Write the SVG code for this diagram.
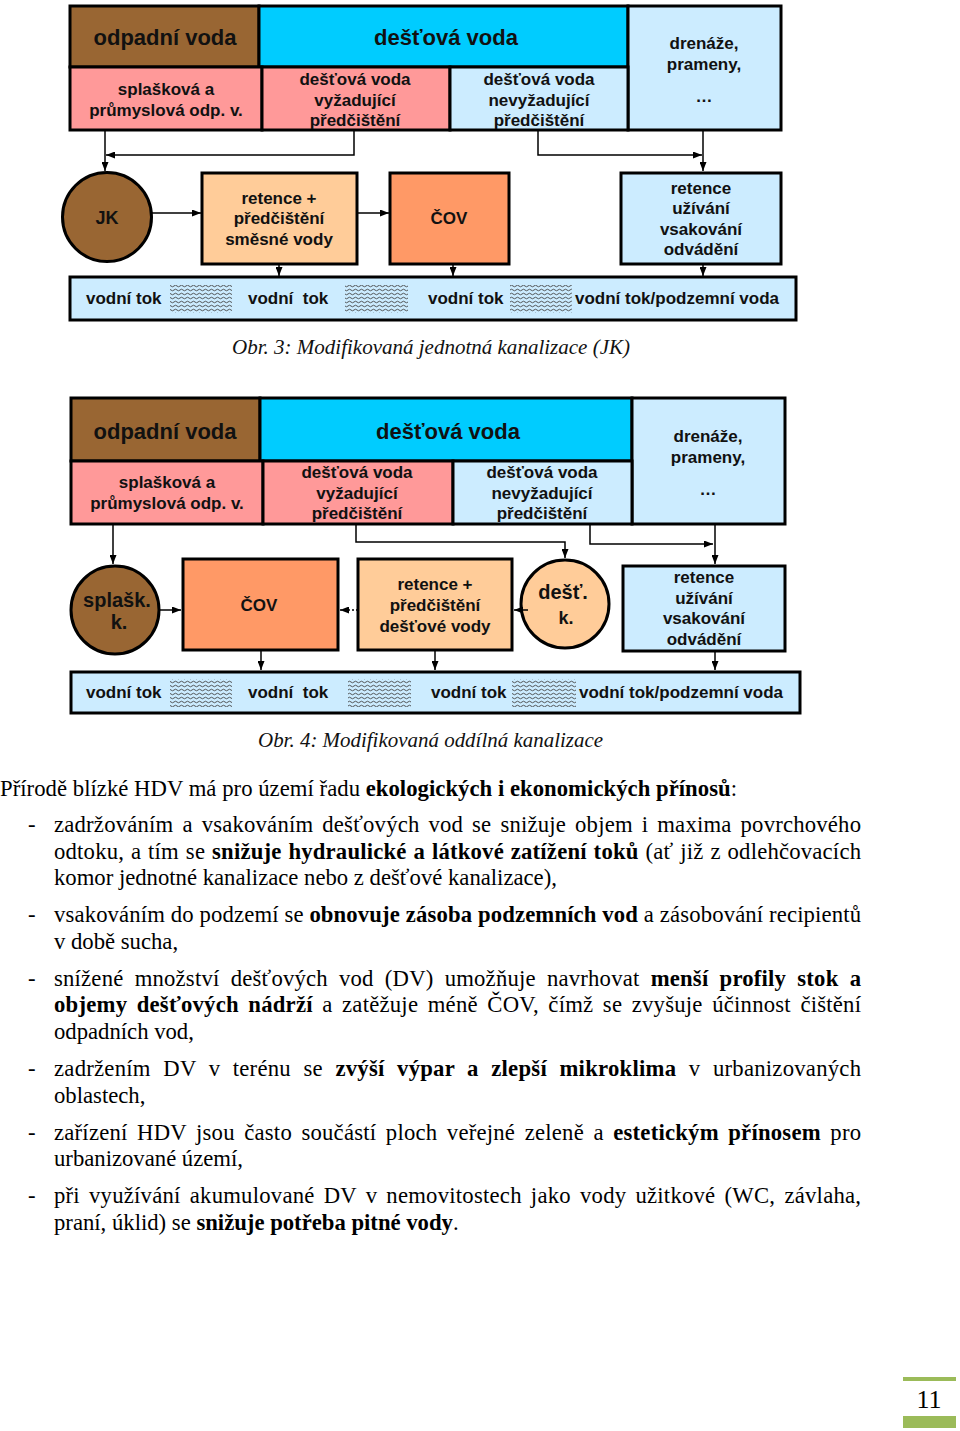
<svg xmlns="http://www.w3.org/2000/svg" width="960" height="1431" viewBox="0 0 960 1431">
<style>
.bx{stroke:#000;stroke-width:3}
.brown{fill:#996633}.cyan{fill:#00CCFF}.lb{fill:#CCECFF}.pink{fill:#FF9999}.lo{fill:#FFCC99}.or{fill:#FF9966}
.t{font-family:"Liberation Sans",Arial,sans-serif;font-weight:bold;font-size:17px;fill:#111;text-anchor:middle}
.h{font-size:22px}
.c{font-size:20px}
.s{font-family:"Liberation Sans",Arial,sans-serif;font-weight:bold;font-size:17px;fill:#111}
.cap{font-family:"Liberation Serif","Times New Roman",serif;font-style:italic;font-size:20px;fill:#111}
.b{font-family:"Liberation Serif","Times New Roman",serif;font-size:22.7px;fill:#000}
.bd{font-weight:bold}
.cn{fill:none;stroke:#000;stroke-width:1.5}
.wv{fill:url(#wave)}
</style>
<defs>
<marker id="ah" markerUnits="userSpaceOnUse" markerWidth="9" markerHeight="7" refX="9" refY="3.5" orient="auto"><path d="M0,0 L9,3.5 L0,7 z" fill="#000"/></marker>
<pattern id="wave" patternUnits="userSpaceOnUse" width="6" height="4"><path d="M0 2 Q1.5 0.4 3 2 T6 2" fill="none" stroke="#444" stroke-width="0.9"/></pattern>
</defs>

<!-- ===== Obr. 3 ===== -->
<g id="top-odpadni"><rect class="bx brown" x="70" y="6" width="189" height="61"/><text class="t h" x="165" y="45">odpadní voda</text></g>
<g id="top-destova"><rect class="bx cyan" x="259" y="6" width="369" height="61"/><text class="t h" x="446" y="45">dešťová voda</text></g>
<g id="top-drenaze"><rect class="bx lb" x="628" y="6" width="153" height="124"/><text class="t" x="704" y="49">drenáže,</text><text class="t" x="704" y="70">prameny,</text><text class="t" x="704" y="102">…</text></g>
<g id="top-splaskova"><rect class="bx pink" x="70" y="67" width="192" height="63"/><text class="t" x="166" y="95">splašková a</text><text class="t" x="166" y="116">průmyslová odp. v.</text></g>
<g id="top-vyzadujici"><rect class="bx pink" x="262" y="67" width="188" height="63"/><text class="t" x="355" y="85">dešťová voda</text><text class="t" x="355" y="106">vyžadující</text><text class="t" x="355" y="126">předčištění</text></g>
<g id="top-nevyzadujici"><rect class="bx lb" x="450" y="67" width="178" height="63"/><text class="t" x="539" y="85">dešťová voda</text><text class="t" x="539" y="106">nevyžadující</text><text class="t" x="539" y="126">předčištění</text></g>

<g id="top-jk"><circle class="bx brown" cx="107" cy="217" r="44.5"/><text class="t" style="font-size:18px" x="107" y="224">JK</text></g>
<g id="top-retence-smesne"><rect class="bx lo" x="202" y="173" width="155" height="91"/><text class="t" x="279" y="204">retence +</text><text class="t" x="279" y="224">předčištění</text><text class="t" x="279" y="245">směsné vody</text></g>
<g id="top-cov"><rect class="bx or" x="390" y="173" width="119" height="91"/><text class="t" x="449" y="224">ČOV</text></g>
<g id="top-retence-blue"><rect class="bx lb" x="621" y="173" width="160" height="91"/><text class="t" x="701" y="194">retence</text><text class="t" x="701" y="214">užívání</text><text class="t" x="701" y="235">vsakování</text><text class="t" x="701" y="255">odvádění</text></g>

<g id="top-vodni-tok"><rect class="bx lb" x="70" y="277" width="726" height="43"/>
<rect class="wv" x="170" y="285" width="62" height="28"/><rect class="wv" x="345" y="285" width="63" height="28"/><rect class="wv" x="510" y="285" width="62" height="28"/>
<text class="s" x="86" y="304">vodní tok</text><text class="s" x="248" y="304" xml:space="preserve">vodní  tok</text><text class="s" x="428" y="304">vodní tok</text><text class="s" x="575" y="304">vodní tok/podzemní voda</text></g>

<g id="connectors-top">
<path class="cn" d="M105 131 V171" marker-end="url(#ah)"/>
<path class="cn" d="M354 131 V155 H106" marker-end="url(#ah)"/>
<path class="cn" d="M538 131 V155 H702" marker-end="url(#ah)"/>
<path class="cn" d="M703 131 V171" marker-end="url(#ah)"/>
<path class="cn" d="M152 213 H201" marker-end="url(#ah)"/>
<path class="cn" d="M357 213 H389" marker-end="url(#ah)"/>
<path class="cn" d="M279 265 V276" marker-end="url(#ah)"/>
<path class="cn" d="M453 265 V276" marker-end="url(#ah)"/>
<path class="cn" d="M703 265 V276" marker-end="url(#ah)"/>
</g>

<text class="cap" x="232" y="354" textLength="398" lengthAdjust="spacingAndGlyphs">Obr. 3: Modifikovaná jednotná kanalizace (JK)</text>

<!-- ===== Obr. 4 ===== -->
<g id="bot-odpadni"><rect class="bx brown" x="71" y="398" width="189" height="63"/><text class="t h" x="165" y="439">odpadní voda</text></g>
<g id="bot-destova"><rect class="bx cyan" x="260" y="398" width="372" height="63"/><text class="t h" x="448" y="439">dešťová voda</text></g>
<g id="bot-drenaze"><rect class="bx lb" x="632" y="398" width="153" height="126"/><text class="t" x="708" y="442">drenáže,</text><text class="t" x="708" y="463">prameny,</text><text class="t" x="708" y="495">…</text></g>
<g id="bot-splaskova"><rect class="bx pink" x="71" y="461" width="192" height="63"/><text class="t" x="167" y="488">splašková a</text><text class="t" x="167" y="509">průmyslová odp. v.</text></g>
<g id="bot-vyzadujici"><rect class="bx pink" x="263" y="461" width="190" height="63"/><text class="t" x="357" y="478">dešťová voda</text><text class="t" x="357" y="499">vyžadující</text><text class="t" x="357" y="519">předčištění</text></g>
<g id="bot-nevyzadujici"><rect class="bx lb" x="453" y="461" width="179" height="63"/><text class="t" x="542" y="478">dešťová voda</text><text class="t" x="542" y="499">nevyžadující</text><text class="t" x="542" y="519">předčištění</text></g>

<g id="bot-splask-k"><circle class="bx brown" cx="115" cy="610" r="44"/><text class="t c" x="117" y="607">splašk.</text><text class="t c" x="119" y="629">k.</text></g>
<g id="bot-cov"><rect class="bx or" x="183" y="559" width="155" height="91"/><text class="t" x="259" y="611">ČOV</text></g>
<g id="bot-retence-destove"><rect class="bx lo" x="358" y="559" width="154" height="91"/><text class="t" x="435" y="590">retence +</text><text class="t" x="435" y="611">předčištění</text><text class="t" x="435" y="632">dešťové vody</text></g>
<g id="bot-dest-k"><circle class="bx lo" cx="565" cy="604" r="44"/><text class="t c" x="563" y="599">dešť.</text><text class="t" style="font-size:18px" x="566" y="624">k.</text></g>
<g id="bot-retence-blue"><rect class="bx lb" x="623" y="566" width="162" height="85"/><text class="t" x="704" y="583">retence</text><text class="t" x="704" y="604">užívání</text><text class="t" x="704" y="624">vsakování</text><text class="t" x="704" y="645">odvádění</text></g>

<g id="bot-vodni-tok"><rect class="bx lb" x="71" y="672" width="729" height="41"/>
<rect class="wv" x="170" y="679" width="62" height="28"/><rect class="wv" x="348" y="679" width="63" height="28"/><rect class="wv" x="512" y="679" width="64" height="28"/>
<text class="s" x="86" y="698">vodní tok</text><text class="s" x="248" y="698" xml:space="preserve">vodní  tok</text><text class="s" x="431" y="698">vodní tok</text><text class="s" x="579" y="698">vodní tok/podzemní voda</text></g>

<g id="connectors-bottom">
<path class="cn" d="M113 525 V564" marker-end="url(#ah)"/>
<path class="cn" d="M356 525 V542 H565 V558" marker-end="url(#ah)"/>
<path class="cn" d="M590 525 V544 H713" marker-end="url(#ah)"/>
<path class="cn" d="M715 525 V564" marker-end="url(#ah)"/>
<path class="cn" d="M159 610 H181" marker-end="url(#ah)"/>
<path class="cn" d="M358 610 H340" stroke-dasharray="2 2" marker-end="url(#ah)"/>
<path class="cn" d="M528 610 H514" marker-end="url(#ah)"/>
<path class="cn" d="M261 651 V670" marker-end="url(#ah)"/>
<path class="cn" d="M435 651 V670" marker-end="url(#ah)"/>
<path class="cn" d="M715 652 V670" marker-end="url(#ah)"/>
</g>

<text class="cap" x="258" y="747" textLength="345" lengthAdjust="spacingAndGlyphs">Obr. 4: Modifikovaná oddílná kanalizace</text>

<!-- ===== Body text ===== -->
<g id="body">
<text class="b" x="0" y="796" textLength="737" lengthAdjust="spacing">Přírodě blízké HDV má pro území řadu <tspan class="bd">ekologických i ekonomických přínosů</tspan>:</text>

<text class="b" x="28" y="832">-</text>
<text class="b" x="54" y="832" word-spacing="3.1" textLength="807" lengthAdjust="spacing">zadržováním a vsakováním dešťových vod se snižuje objem i maxima povrchového</text>
<text class="b" x="54" y="859" word-spacing="1" textLength="807" lengthAdjust="spacing">odtoku, a tím se <tspan class="bd">snižuje hydraulické a látkové zatížení toků</tspan> (ať již z odlehčovacích</text>
<text class="b" x="54" y="885">komor jednotné kanalizace nebo z dešťové kanalizace),</text>

<text class="b" x="28" y="922">-</text>
<text class="b" x="54" y="922" textLength="807" lengthAdjust="spacing">vsakováním do podzemí se <tspan class="bd">obnovuje zásoba podzemních vod</tspan> a zásobování recipientů</text>
<text class="b" x="54" y="949">v době sucha,</text>

<text class="b" x="28" y="986">-</text>
<text class="b" x="54" y="986" word-spacing="5.3" textLength="807" lengthAdjust="spacing">snížené množství dešťových vod (DV) umožňuje navrhovat <tspan class="bd">menší profily stok a</tspan></text>
<text class="b" x="54" y="1012" word-spacing="3.6" textLength="807" lengthAdjust="spacing"><tspan class="bd">objemy dešťových nádrží</tspan> a zatěžuje méně ČOV, čímž se zvyšuje účinnost čištění</text>
<text class="b" x="54" y="1039">odpadních vod,</text>

<text class="b" x="28" y="1076">-</text>
<text class="b" x="54" y="1076" word-spacing="6.6" textLength="807" lengthAdjust="spacing">zadržením DV v terénu se <tspan class="bd">zvýší výpar a zlepší mikroklima</tspan> v urbanizovaných</text>
<text class="b" x="54" y="1103">oblastech,</text>

<text class="b" x="28" y="1140">-</text>
<text class="b" x="54" y="1140" word-spacing="3.6" textLength="807" lengthAdjust="spacing">zařízení HDV jsou často součástí ploch veřejné zeleně a <tspan class="bd">estetickým přínosem</tspan> pro</text>
<text class="b" x="54" y="1166">urbanizované území,</text>

<text class="b" x="28" y="1203">-</text>
<text class="b" x="54" y="1203" word-spacing="3.2" textLength="807" lengthAdjust="spacing">při využívání akumulované DV v nemovitostech jako vody užitkové (WC, závlaha,</text>
<text class="b" x="54" y="1230">praní, úklid) se <tspan class="bd">snižuje potřeba pitné vody</tspan>.</text>
</g>

<g id="page-number">
<rect x="903" y="1377" width="53" height="4" fill="#9BBB59"/>
<text class="b" x="929" y="1408" style="font-size:26px" text-anchor="middle">11</text>
<rect x="903" y="1416" width="53" height="12" fill="#9BBB59"/>
</g>
</svg>
